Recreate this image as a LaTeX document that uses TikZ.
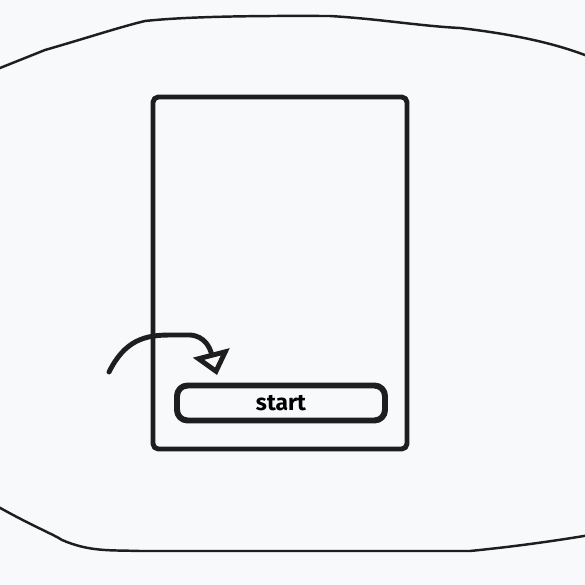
\documentclass[tikz,border=0pt]{standalone}
\usepackage{fontspec}
\setsansfont{Fira Sans}
\usetikzlibrary{arrows.meta, positioning}
\definecolor{paper}{HTML}{F8F9FA}
\definecolor{ink}{HTML}{1E1E1E}

\begin{document}
\begin{tikzpicture}[x=0.02cm, y=-0.02cm, line join=round, line cap=round,
  sketch/.style={draw=ink, line width=#1},
  sketch/.default=1.4pt,
  btn/.style={sketch=3.4pt, rounded corners=6pt, minimum width=208*0.02cm, minimum height=35*0.02cm, inner sep=0pt, font=\sffamily\bfseries\fontsize{13}{13}\selectfont},
  >={Triangle[open, length=13pt, width=21pt, line width=2.8pt]}]
  \fill[paper] (0,0) rectangle (585,585);
  \useasboundingbox (0,0) rectangle (585,585);
  % outer window
  \draw[sketch] (-5,70) -- (45,50) .. controls (90,37) and (120,27) .. (145,21)
    .. controls (200,15) and (300,16) .. (330,16)
    .. controls (380,19) and (420,26) .. (460,28) .. controls (520,35) and (560,45) .. (590,57);
  \draw[sketch] (-5,505) .. controls (30,525) and (55,535) .. (62,540)
    .. controls (90,552) and (110,550) .. (140,551) -- (470,551)
    .. controls (520,546) and (560,540) .. (590,535);
  % device frame
  \node[sketch=2.8pt, rounded corners=3pt, minimum width=254*0.02cm, minimum height=352*0.02cm, inner sep=0pt] (screen) at (280,273) {};
  \node[btn] (startbtn) at (281,403) {start};
  % hint arrow
  \coordinate (hint) at (109,372);
  \coordinate (hintend) at (217,375);
  \draw[sketch=2.8pt, ->] (hint) .. controls (125,340) and (145,335) .. (170,335)
    -- (190,335) .. controls (205,336) and (210,348) .. (hintend);
\end{tikzpicture}
\end{document}
